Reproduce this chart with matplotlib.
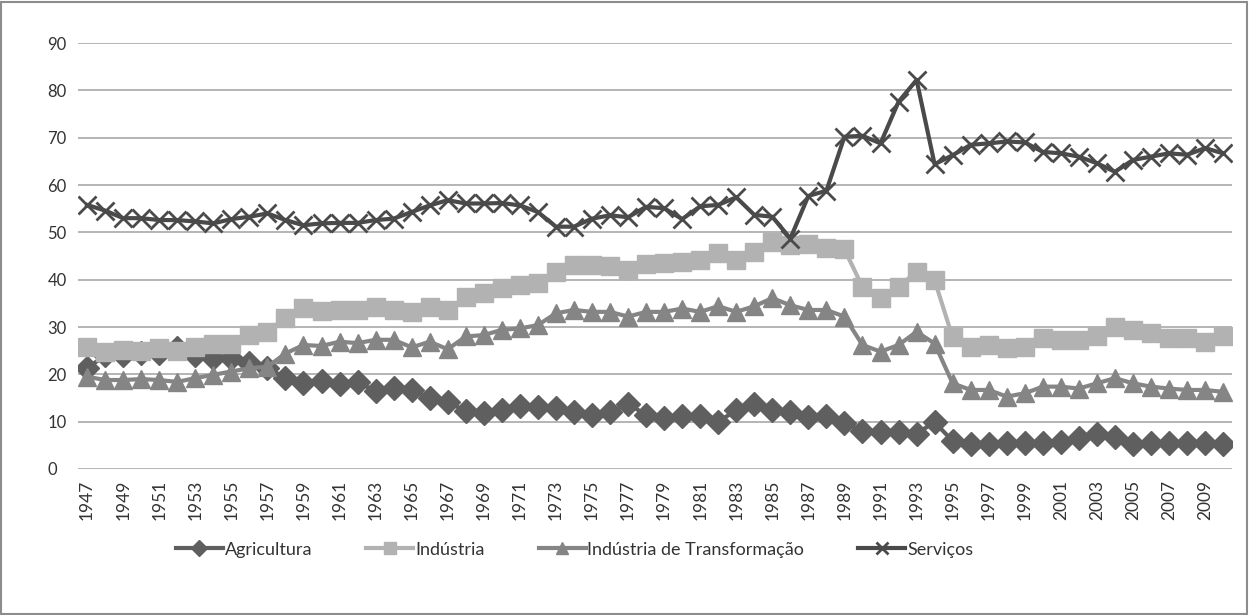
import matplotlib
matplotlib.use('Agg')
import matplotlib.pyplot as plt
from matplotlib.patches import Rectangle
import numpy as np

years = list(range(1947, 2011))

agricultura = [21.3, 24.0, 24.0, 24.5, 24.5, 25.5, 24.0, 23.5, 23.5, 22.5,
               21.4, 19.2, 18.2, 18.5, 18.0, 18.3, 16.5, 17.2, 16.6, 14.9,
               14.2, 12.2, 11.8, 12.5, 13.4, 13.2, 12.8, 12.1, 11.5, 12.0,
               13.8, 11.4, 10.8, 11.2, 11.2, 10.0, 12.4, 13.8, 12.5, 12.1,
               11.0, 11.3, 9.8, 8.0, 7.9, 7.8, 7.5, 9.9, 5.9, 5.3,
               5.2, 5.4, 5.4, 5.5, 5.8, 6.5, 7.4, 6.8, 5.3, 5.4,
               5.4, 5.5, 5.4, 5.2]

industria = [25.8, 24.8, 25.2, 25.0, 25.6, 25.0, 25.8, 26.5, 26.5, 28.3,
             29.0, 32.0, 34.0, 33.3, 33.5, 33.5, 34.2, 33.7, 33.2, 34.2,
             33.5, 36.4, 37.1, 38.2, 38.9, 39.4, 41.7, 43.1, 43.1, 42.8,
             42.0, 43.3, 43.5, 43.8, 44.2, 45.6, 44.2, 45.9, 48.0, 47.3,
             47.5, 46.6, 46.4, 38.5, 36.1, 38.5, 41.7, 39.9, 27.8, 25.8,
             26.2, 25.5, 25.8, 27.6, 27.3, 27.3, 28.0, 30.1, 29.4, 28.7,
             27.6, 27.6, 26.9, 28.0]

transformacao = [19.5, 18.8, 18.8, 19.0, 18.8, 18.4, 19.2, 19.9, 20.6, 21.3,
                 21.6, 24.4, 26.2, 26.0, 26.9, 26.6, 27.3, 27.3, 25.7, 26.9,
                 25.3, 28.0, 28.3, 29.4, 29.7, 30.4, 32.9, 33.6, 33.2, 33.2,
                 32.2, 33.2, 33.2, 33.9, 33.2, 34.4, 33.2, 34.4, 36.1, 34.6,
                 33.6, 33.6, 32.2, 26.2, 24.8, 26.2, 29.0, 26.5, 18.1, 16.7,
                 16.7, 15.3, 16.0, 17.4, 17.4, 17.0, 18.1, 19.2, 18.1, 17.4,
                 17.0, 16.7, 16.7, 16.3]

servicos = [55.8, 54.6, 53.0, 53.0, 52.6, 52.6, 52.3, 51.9, 52.8, 53.3,
            54.0, 52.6, 51.5, 51.9, 52.0, 52.0, 52.6, 52.9, 54.3, 55.7,
            56.8, 56.1, 56.1, 56.2, 55.7, 54.3, 51.2, 51.2, 52.9, 53.6,
            53.2, 55.4, 55.1, 52.8, 55.5, 55.8, 57.4, 53.7, 53.3, 48.7,
            57.7, 58.8, 70.2, 70.4, 68.8, 77.6, 82.2, 64.4, 66.3, 68.5,
            68.8, 69.2, 69.0, 67.0, 66.7, 66.0, 64.6, 62.8, 65.3, 66.0,
            66.7, 66.4, 67.8, 66.7]

plt.rcParams['font.family'] = ['Lato', 'DejaVu Sans']

fig = plt.figure(figsize=(12.49, 6.15), dpi=100)
ax = fig.add_axes([0.0625, 0.2374, 0.924, 0.6926])

lw = 3.0
ax.plot(years, agricultura, color='#5f5f5f', lw=lw, marker='D', ms=12,
        label='Agricultura', zorder=3)
ax.plot(years, industria, color='#b2b2b2', lw=lw, marker='s', ms=13,
        label='Indústria', zorder=3)
ax.plot(years, transformacao, color='#858585', lw=lw, marker='^', ms=13,
        label='Indústria de Transformação', zorder=3)
ax.plot(years, servicos, color='#4a4a4a', lw=lw, marker='x', ms=13, mew=2,
        label='Serviços', zorder=3)

ax.set_xlim(1946.5, 2010.5)
ax.set_ylim(0, 90)
ax.set_yticks(np.arange(0, 91, 10))
ax.set_xticks(years[::2])
ax.set_xticklabels([str(y) for y in years[::2]], rotation=90)
ax.tick_params(axis='both', length=0, colors='#333333')
ax.tick_params(axis='y', pad=22, labelsize=12)
ax.tick_params(axis='x', pad=8, labelsize=12.5)
for t in ax.get_yticklabels():
    t.set_horizontalalignment('left')
ax.grid(axis='y', color='#a0a0a0', lw=1.1)
ax.set_axisbelow(True)
for s in ax.spines.values():
    s.set_visible(False)

fig.legend(loc='center', bbox_to_anchor=(0.46, 0.106), ncol=4, frameon=False,
           fontsize=13, handlelength=2.6, columnspacing=3.0, handletextpad=0.1,
           markerscale=0.65, labelcolor='#333333')

fig.add_artist(Rectangle((0.001, 0.002), 0.997, 0.995, transform=fig.transFigure,
                         fill=False, edgecolor='#8c8c8c', lw=1.5))

fig.savefig('out.png', dpi=100)
